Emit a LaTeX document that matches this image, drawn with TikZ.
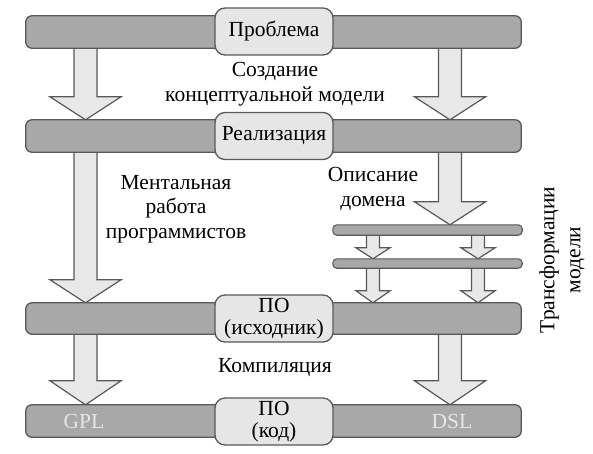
\documentclass[tikz,border=0pt]{standalone}
\usepackage{fontspec}
\setmainfont{Liberation Serif}
\usetikzlibrary{calc}
\definecolor{barfill}{HTML}{A8A8A8}
\definecolor{barline}{HTML}{585858}
\definecolor{boxfill}{HTML}{E6E6E6}
\definecolor{arrfill}{HTML}{E8E8E8}
\tikzset{
  bar/.style={draw=barline, fill=barfill, line width=1.3pt, rounded corners=6pt, inner sep=0pt},
  tbar/.style={draw=barline, fill=barfill, line width=1.1pt, rounded corners=4pt, inner sep=0pt},
  box/.style={draw=barline, fill=boxfill, line width=1.3pt, rounded corners=10pt, minimum width=118pt, minimum height=47pt, inner sep=0pt, align=center, font=\fontsize{21.5}{22}\selectfont},
  lbl/.style={align=center, font=\fontsize{21.5}{24.5}\selectfont, inner sep=0pt},
  arr/.style={draw=barline, fill=arrfill, line width=1.2pt, line join=miter},
  lang/.style={text=boxfill, font=\fontsize{21.5}{22}\selectfont, inner sep=0pt}
}
% #1 x, #2 from node, #3 to node, #4 shaft half width, #5 head half width, #6 head length
\newcommand{\blockarr}[6]{%
  \path[arr] let \p1=(#2.south), \p2=(#3.north) in
   ({#1pt-#4pt},{\y1+2pt}) -- ({#1pt-#4pt},{\y2+#6pt}) -- ({#1pt-#5pt},{\y2+#6pt}) -- ({#1pt},{\y2})
   -- ({#1pt+#5pt},{\y2+#6pt}) -- ({#1pt+#4pt},{\y2+#6pt}) -- ({#1pt+#4pt},{\y1+2pt});}
\begin{document}
\begin{tikzpicture}[x=1pt,y=-1pt]
\useasboundingbox (0,0) rectangle (593,453);
% bar geometry (not drawn yet, for anchors)
\path
  (273.5,32) node[minimum width=495pt, minimum height=32pt, inner sep=0pt] (b1) {}
  (273.5,136) node[minimum width=495pt, minimum height=32pt, inner sep=0pt] (b2) {}
  (273.5,318.5) node[minimum width=495pt, minimum height=31pt, inner sep=0pt] (b3) {}
  (273.5,421) node[minimum width=495pt, minimum height=32pt, inner sep=0pt] (b4) {}
  (427.5,230) node[minimum width=189pt, minimum height=10pt, inner sep=0pt] (t1) {}
  (427.5,263.5) node[minimum width=189pt, minimum height=9pt, inner sep=0pt] (t2) {};
% arrows
\blockarr{85.5}{b1}{b2}{11.5}{35.5}{23}
\blockarr{450}{b1}{b2}{11.5}{35.5}{23}
\blockarr{85.5}{b2}{b3}{11.5}{35.5}{23}
\blockarr{450}{b2}{t1}{11.5}{35.5}{23}
\blockarr{373}{t1}{t2}{6.5}{17}{11}
\blockarr{478}{t1}{t2}{6.5}{17}{11}
\blockarr{373}{t2}{b3}{6.5}{17}{12}
\blockarr{478}{t2}{b3}{6.5}{17}{12}
\blockarr{85.5}{b3}{b4}{11.5}{35.5}{24}
\blockarr{450}{b3}{b4}{11.5}{35.5}{24}
% bars
\foreach \b in {b1,b2,b3,b4}{
  \draw[bar] (\b.south west) rectangle (\b.north east);}
\foreach \b in {t1,t2}{
  \draw[tbar] (\b.south west) rectangle (\b.north east);}
% boxes
\node[box] (p1) at (274,31.5) {Проблема};
\node[box] (p2) at (274,136) {Реализация};
\node[box] (p3) at (274,318.5) {ПО\\(исходник)};
\node[box] (p4) at (274,421.5) {ПО\\(код)};
% labels
\node[lbl] (l1) at (275,84) {Создание\\концептуальной модели};
\node[lbl] (l2) at (176,209) {Ментальная\\работа\\программистов};
\node[lbl] (l3) at (373,189) {Описание\\домена};
\node[lbl] (l4) at (275,368) {Компиляция};
\node[lang] (g) at (84,421) {GPL};
\node[lang] (d) at (452,421) {DSL};
\node[lbl, rotate=90, font=\fontsize{21.5}{26}\selectfont] (l5) at (562,260) {Трансформации\\модели};
\end{tikzpicture}
\end{document}
